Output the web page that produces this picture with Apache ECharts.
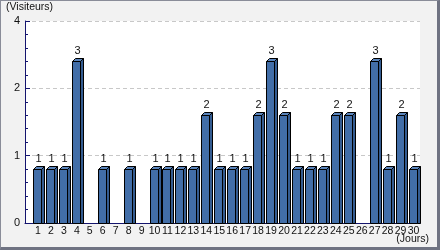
<!DOCTYPE html>
<html><head><meta charset="utf-8">
<script src="https://cdn.jsdelivr.net/npm/echarts@6/dist/echarts.min.js"></script>
<style>
html,body{margin:0;padding:0;background:#f2f2f2;}
#wrap{position:relative;width:440px;height:250px;}
#c{width:440px;height:250px;}
#frame{position:absolute;left:0;top:0;width:440px;height:250px;box-sizing:border-box;border-left:1px solid #8a8d99;border-top:1px solid #8a8d99;border-right:3px solid #6f7382;border-bottom:3px solid #6f7382;pointer-events:none;}
</style></head>
<body><div id="wrap"><div id="c"></div><div id="frame"></div></div>
<script>
const days = ['1','2','3','4','5','6','7','8','9','10','11','12','13','14','15','16','17','18','19','20','21','22','23','24','25','26','27','28','29','30'];
const visitors = [1,1,1,3,0,1,0,1,0,1,1,1,1,2,1,1,1,2,3,2,1,1,1,2,2,0,3,1,2,1];
const yTickLabels = ['0','1','2','4'];
const yTickStep = 1.25;
const yName = '(Visiteurs)';
const xName = '(Jours)';

const chart = echarts.init(document.getElementById('c'), null, {renderer:'canvas'});
const FONT = '"Liberation Sans"';
const seriesData = days.map((d, i) => [i + 1, visitors[i]]);

function renderItem(params, api) {
  const v = api.value(1);
  if (!v) return null;
  const x = api.value(0);
  const p = api.coord([x, v]);
  const b = api.coord([x, 0]);
  const d = 3;
  const l = Math.round(p[0]) - 5 + 0.5;
  const r = l + 8;
  const t = Math.round(p[1]) + 0.5;
  const bot = Math.round(b[1]) + 0.5;
  const stroke = {stroke:'#000', lineWidth:1};
  return {
    type:'group',
    children:[
      {type:'polygon', shape:{points:[[r,t],[r+d,t-d],[r+d,bot],[r,bot]]}, style:Object.assign({fill:'#345c91'}, stroke)},
      {type:'polygon', shape:{points:[[l,t],[l+d,t-d],[r+d,t-d],[r,t]]}, style:Object.assign({fill:'#5a84bb'}, stroke)},
      {type:'rect', shape:{x:l, y:t, width:8, height:bot-t}, style:Object.assign({fill:'#426ea8'}, stroke)},
      {type:'text', style:{text:String(v), x:(l+r)/2 + 1, y:t - 5, textAlign:'center', textVerticalAlign:'bottom', font:'11px ' + FONT, fill:'#111'}}
    ]
  };
}

chart.setOption({
  animation:false,
  backgroundColor:'#f2f2f2',
  title:{text:yName, left:1, top:-3, textStyle:{fontFamily:FONT, fontSize:10.5, fontWeight:'normal', color:'#111'}},
  grid:{left:25, right:20, top:21, bottom:27, show:true, backgroundColor:'#ffffff', borderWidth:0},
  graphic:[{type:'text', right:11, bottom:5, style:{text:xName, font:'10.5px ' + FONT, fill:'#111'}}],
  xAxis:{
    type:'value', min:0, max:30.5, interval:1,
    axisLine:{show:true, lineStyle:{color:'#14146e', width:1}},
    axisTick:{show:false},
    splitLine:{show:false},
    axisLabel:{margin:3, color:'#111', fontFamily:FONT, fontSize:10.5,
      formatter:(v)=> (v >= 1 && v <= days.length && Number.isInteger(v)) ? days[v-1] : '', showMaxLabel:false}
  },
  yAxis:{
    type:'value', min:0, max:yTickStep*(yTickLabels.length-1), interval:yTickStep,
    axisLine:{show:true, lineStyle:{color:'#14146e', width:1}},
    axisTick:{show:true, inside:true, length:5, lineStyle:{color:'#14146e'}},
    minorTick:{show:true, splitNumber:5, length:3, lineStyle:{color:'#14146e'}},
    splitLine:{show:true, lineStyle:{color:'#c8c8c8', type:[4,3]}},
    axisLabel:{margin:5, color:'#111', fontFamily:FONT, fontSize:11,
      formatter:(v)=> yTickLabels[Math.round(v / yTickStep)]}
  },
  series:[{type:'custom', renderItem:renderItem, data:seriesData, clip:false, z:5}]
});
</script></body></html>
